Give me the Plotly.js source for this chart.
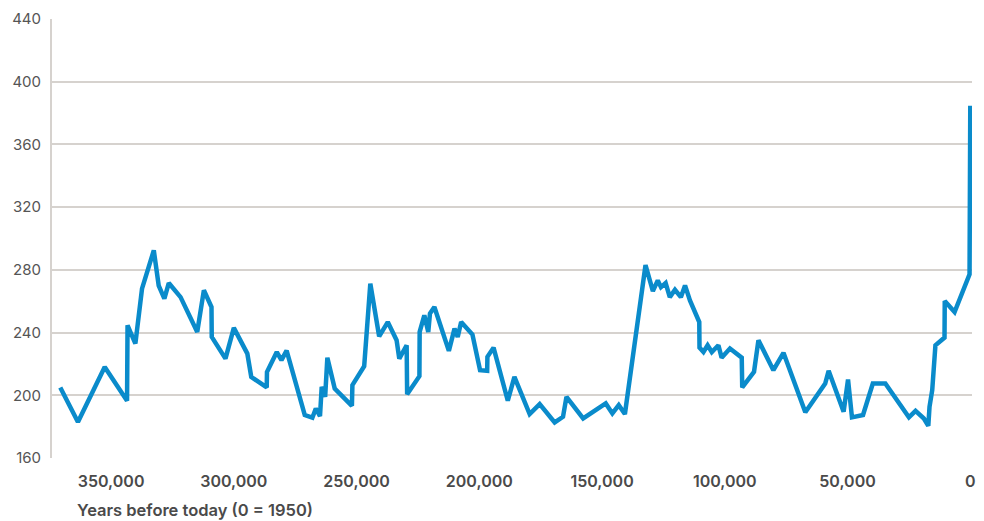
<!DOCTYPE html>
<html>
<head>
<meta charset="utf-8">
<script src="https://cdn.plot.ly/plotly-3.0.1.min.js"></script>
<style>html,body{margin:0;padding:0;background:#fff;}#chart{width:984px;height:521px;}</style>
</head>
<body>
<div id="chart"></div>
<script>
// Years before today (0 = 1950)
const years = [370700,363500,352600,343500,343300,340100,337400,332600,330600,328300,326500,321700,314900,312200,309100,309000,303400,300000,294500,292900,286600,286500,282500,280600,278500,
271100,268000,266600,264900,264200,262800,261900,258900,251900,251700,246900,244400,240800,237300,233700,232600,229600,229400,224400,224300,222400,220800,220100,218300,212400,210100,208800,207400,202800,199700,196800,196700,194200,
188400,185700,179500,175400,169300,165900,164500,157700,148500,145800,143200,140700,132300,129300,127300,126000,124100,122400,120300,117900,116200,114200,110400,110300,108700,107000,105300,102600,101300,97900,93100,92900,88100,86300,80200,76100,67200,
59100,57700,51600,49800,48200,43700,39700,34600,25000,22300,18900,17100,16600,15500,14200,10500,10400,6400,300,0];
// CO2 concentration (ppm)
const co2 = [205,183,218,196.5,244.6,233,268,292.4,270,261.6,271.6,262.6,240.4,267,256.3,237.2,223.4,243,226.6,211.7,205,214.9,227.6,222.4,228.5,
187.4,185.7,191.6,186.7,205.4,199,224,204.3,193.3,206.5,218.5,271.2,237.6,246.7,235.1,223.4,231.9,200.7,212.2,240.4,251,240.4,252.1,256.3,228.3,242.5,237.2,246.7,238.8,216,215.6,224.5,230.4,
196.5,211.7,188,194.4,182.7,186.3,199,185.2,194.8,188.4,193.7,188,283,266.5,273.3,269,271.6,262.6,267.3,262.6,270.1,260.5,246.7,230.4,227.6,231.9,227.6,231.9,224,229.8,224,205,214.9,235.1,216,227.1,189.2,
207.5,215.6,189.5,210.1,185.9,187.4,207.5,207.5,185.9,190.1,185.2,180.5,192.7,203.3,231.9,236.8,260.1,253.1,277.1,384.6];
const xTickVals = [350000,300000,250000,200000,150000,100000,50000,0];
const xTickText = ["350,000","300,000","250,000","200,000","150,000","100,000","50,000","0"];
const yTickVals = [160,200,240,280,320,360,400,440];
const xTitle = "Years before today (0 = 1950)";

const font = "Inter, 'Open Sans', 'Liberation Sans', sans-serif";
Plotly.newPlot('chart', [{
  x: years, y: co2, type: 'scatter', mode: 'lines',
  line: {color: '#0a8bcb', width: 4.5},
  hoverinfo: 'skip'
}], {
  width: 984, height: 521,
  margin: {l: 52, r: 12, t: 19, b: 63},
  paper_bgcolor: '#ffffff', plot_bgcolor: '#ffffff',
  showlegend: false,
  xaxis: {
    range: [374070, -700],
    tickvals: xTickVals, ticktext: xTickText,
    showgrid: false, zeroline: false, showline: false,
    ticks: '', ticklabelstandoff: 12,
    tickfont: {family: font, size: 16, color: '#4a4a4a', weight: 600}
  },
  yaxis: {
    range: [160, 440],
    tickvals: yTickVals,
    showgrid: true, gridcolor: '#d6d2ce', gridwidth: 2,
    zeroline: false, showline: true, linecolor: '#d6d2ce', linewidth: 2,
    ticks: '', ticklabelstandoff: 6,
    tickfont: {family: font, size: 15, color: '#555555'}
  },
  annotations: [{
    text: xTitle, xref: 'paper', yref: 'paper', x: 0.0255, y: -0.092,
    xanchor: 'left', yanchor: 'top', showarrow: false,
    font: {family: font, size: 16.5, color: '#4a4a4a', weight: 600}
  }]
}, {displayModeBar: false, staticPlot: true});
</script>
</body>
</html>
